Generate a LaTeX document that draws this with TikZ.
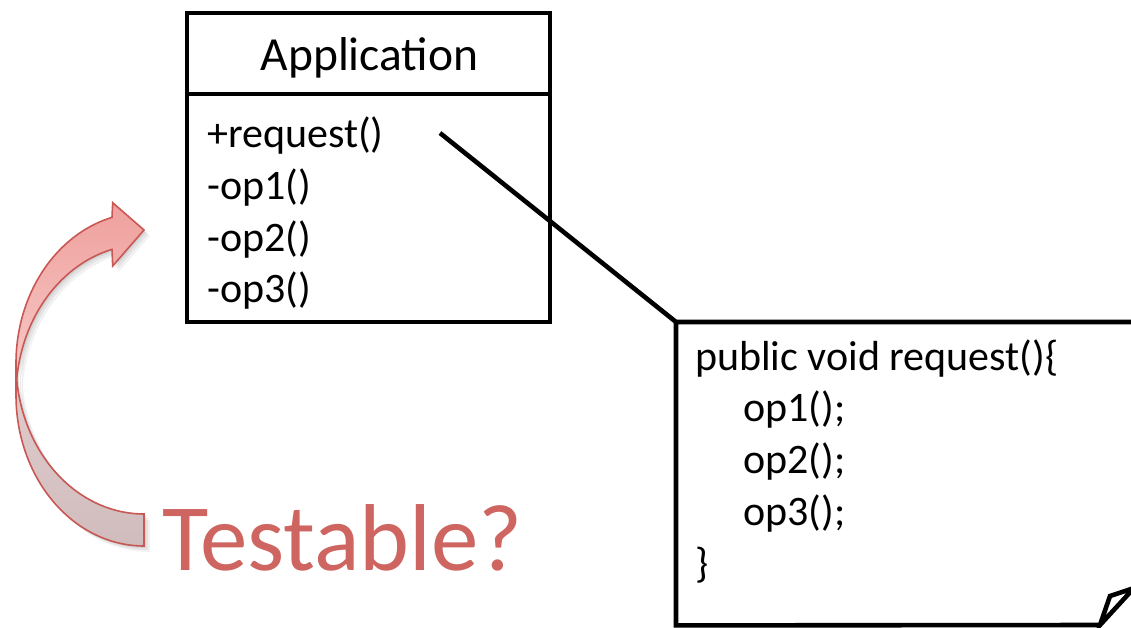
\documentclass[tikz,border=0pt]{standalone}
\usepackage{fontspec}
\setmainfont{Carlito}
\definecolor{arrowline}{RGB}{200,88,84}
\definecolor{frontTop}{RGB}{239,160,157}
\definecolor{frontBot}{RGB}{247,205,203}
\definecolor{backTop}{RGB}{226,206,206}
\definecolor{backBot}{RGB}{208,188,188}
\definecolor{testred}{RGB}{206,101,96}
% outline of the curved arrow: two equal ellipses shifted vertically
% ellipse A: centre (144,363.3); ellipse B: centre (144,395.3); radii 128 x 150.7
\newcommand{\ribbonback}{%
  plot[domain=180:90, samples=40, smooth] ({144+128*cos(\x)},{395.3+150.7*sin(\x)})
  -- (144,514)
  -- plot[domain=90:180, samples=40, smooth] ({144+128*cos(\x)},{363.3+150.7*sin(\x)})
  -- cycle}
\newcommand{\ribbonfront}{%
  plot[domain=180:255.52, samples=40, smooth] ({144+128*cos(\x)},{363.3+150.7*sin(\x)})
  -- (112.7,202.7) -- (144,230) -- (112.7,266) -- (112,249.4)
  -- plot[domain=255.52:180, samples=40, smooth] ({144+128*cos(\x)},{395.3+150.7*sin(\x)})
  -- cycle}
\begin{document}
\begin{tikzpicture}[x=1pt,y=-1pt,
  uml/.style={line width=4.6pt, draw=black, line join=miter},
  member/.style={anchor=base west, inner sep=0pt, font=\fontsize{42}{50}\selectfont},
  ribbon/.style={draw=arrowline, line width=1.6pt, line join=miter},
]
\useasboundingbox (0,0) rectangle (1131,627);
\clip (0,0) rectangle (1131,627);

% ---- curved arrow ----
% soft shadow
\foreach \s/\o in {2/0.07,4/0.06,6/0.05}{
  \fill[black, opacity=\o, shift={(\s,\s)}] \ribbonback;
  \fill[black, opacity=\o, shift={(\s,\s)}] \ribbonfront;
}
\path[ribbon, top color=backTop, bottom color=backBot] \ribbonback;
\path[ribbon, top color=frontTop, bottom color=frontBot] \ribbonfront;

% ---- UML class ----
\node[uml, rectangle, minimum width=363pt, minimum height=309pt, inner sep=0pt] (app) at (368.5,167.5) {};
\node[anchor=base, inner sep=0pt, font=\fontsize{47.5}{50}\selectfont] (title) at (369.5,70) {Application};
\coordinate (divy) at (0,94);
\draw[uml] (app.west |- divy) -- (app.east |- divy);

\node[member] (m0) at (207,147) {+request()};
\node[member] (m1) at (207,199) {-op1()};
\node[member] (m2) at (207,251) {-op2()};
\node[member] (m3) at (207,302) {-op3()};

% ---- note with folded corner ----
\node[anchor=north west, minimum width=480pt, minimum height=303pt, inner sep=0pt] (note) at (676,322) {};
\coordinate (foldA) at (1100,625);
\coordinate (foldB) at (1110,596);
\coordinate (foldC) at (1134,588);
\draw[uml] (note.north east) -- (note.north west) -- (note.south west) -- (foldA);
\draw[uml] (foldA) -- (foldB) -- (foldC) -- cycle;

\node[member] (c0) at (695,370) {public void request()\{};
\node[member] (c1) at (743,421) {op1();};
\node[member] (c2) at (743,473) {op2();};
\node[member] (c3) at (743,525) {op3();};
\node[member] (c4) at (695,577) {\}};

% link from the request() operation to the note
\coordinate (reqlink) at (440,133);
\draw[uml] (reqlink) -- (note.north west);

% ---- question ----
\node[anchor=base west, inner sep=0pt, font=\fontsize{95}{100}\selectfont, text=testred] (q) at (162,570) {Testable?};
\end{tikzpicture}
\end{document}
